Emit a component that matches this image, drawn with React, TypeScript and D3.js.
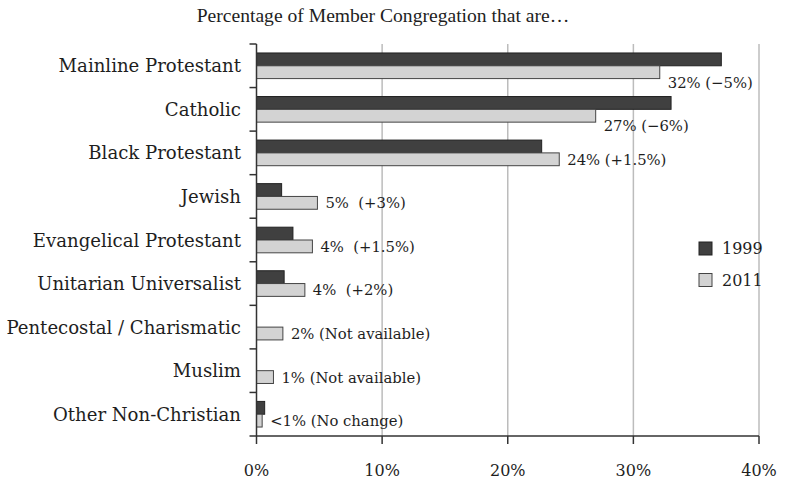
import React from 'react';
import * as d3 from 'd3';

// categories, top to bottom
const categories = [
  'Mainline Protestant',
  'Catholic',
  'Black Protestant',
  'Jewish',
  'Evangelical Protestant',
  'Unitarian Universalist',
  'Pentecostal / Charismatic',
  'Muslim',
  'Other Non-Christian',
];

// percent of member congregations (null = not available)
const values1999: (number | null)[] = [37, 33, 22.7, 2, 2.9, 2.2, null, null, 0.65];
const values2011: number[] = [32.1, 27, 24.1, 4.85, 4.45, 3.85, 2.1, 1.35, 0.45];

const valueLabels = [
  '32% (−5%)',
  '27% (−6%)',
  '24% (+1.5%)',
  '5%  (+3%)',
  '4%  (+1.5%)',
  '4%  (+2%)',
  '2% (Not available)',
  '1% (Not available)',
  '<1% (No change)',
];

const seriesNames = ['1999', '2011'];
const xTicks = [0, 10, 20, 30, 40];

const title = 'Percentage of Member Congregation that are…';

export default function App() {
  const width = 797;
  const height = 483;
  const margin = { top: 44, right: 38, bottom: 47, left: 256.5 };

  const x = d3.scaleLinear().domain([0, 40]).range([margin.left, width - margin.right]);
  const y = d3.scaleBand<string>().domain(categories).range([margin.top, height - margin.bottom]).padding(0);
  const inner = d3.scaleBand<string>().domain(seriesNames).range([0, y.bandwidth()]).paddingInner(0).paddingOuter(0.7);
  const colors = d3.scaleOrdinal<string, string>().domain(seriesNames).range(['#404040', '#d3d3d3']);

  const serif = '"DejaVu Serif", serif';
  const x0 = x(0);
  const yBottom = height - margin.bottom;
  const boundaries = d3.range(categories.length + 1).map(i => margin.top + i * y.step());

  return (
    <svg width={width} height={height} style={{ position: 'absolute', left: 0, top: 0, background: '#fff' }}>
      <text x={383} y={22} textAnchor="middle" fontFamily='"Liberation Serif", serif' fontSize={19.6} fill="#1e1e1e">
        {title}
      </text>

      {/* gridlines */}
      {xTicks.filter(t => t > 0).map(t => (
        <line key={'g' + t} x1={x(t)} x2={x(t)} y1={margin.top} y2={yBottom} stroke="#bcbcbc" strokeWidth={1.5} />
      ))}

      {/* bars */}
      {categories.map((c, i) => {
        const by = y(c)!;
        const v1 = values1999[i];
        const v2 = values2011[i];
        return (
          <g key={c}>
            {v1 != null && (
              <rect x={x0} y={by + inner('1999')!} width={x(v1) - x0} height={inner.bandwidth()}
                fill={colors('1999')} stroke="#222" strokeWidth={1} />
            )}
            <rect x={x0} y={by + inner('2011')!} width={x(v2) - x0} height={inner.bandwidth()}
              fill={colors('2011')} stroke="#444" strokeWidth={1} />
          </g>
        );
      })}

      {/* value labels */}
      {categories.map((c, i) => {
        const lx = x(values2011[i]) + 8;
        const v1 = values1999[i];
        const overlaps = v1 != null && lx < x(v1);
        const ly = y(c)! + inner('2011')! + inner.bandwidth() / 2 + (overlaps ? 10 : 0);
        return (
          <text key={'l' + c} x={lx} y={ly} dominantBaseline="central" fontFamily={serif} fontSize={14.8}
            fill="#1e1e1e" style={{ whiteSpace: 'pre' }}>
            {valueLabels[i]}
          </text>
        );
      })}

      {/* y axis */}
      <line x1={x0} x2={x0} y1={margin.top} y2={yBottom} stroke="#333" strokeWidth={1.5} />
      {boundaries.map((b, i) => (
        <line key={'yt' + i} x1={x0 - 7} x2={x0} y1={b} y2={b} stroke="#333" strokeWidth={1.5} />
      ))}
      {categories.map(c => (
        <text key={'c' + c} x={241} y={y(c)! + y.bandwidth() / 2} textAnchor="end" dominantBaseline="central"
          fontFamily={serif} fontSize={18.1} fill="#1e1e1e">
          {c}
        </text>
      ))}

      {/* x axis */}
      <line x1={x0} x2={x(40)} y1={yBottom} y2={yBottom} stroke="#333" strokeWidth={1.5} />
      {xTicks.map(t => (
        <g key={'xt' + t}>
          <line x1={x(t)} x2={x(t)} y1={yBottom} y2={yBottom + 8} stroke="#333" strokeWidth={1.5} />
          <text x={x(t)} y={470} textAnchor="middle" dominantBaseline="central" fontFamily={serif} fontSize={16} fill="#1e1e1e">
            {t + '%'}
          </text>
        </g>
      ))}

      {/* legend */}
      {seriesNames.map((s, i) => (
        <g key={'lg' + s} transform={`translate(699,${242 + i * 31.5})`}>
          <rect width={13} height={13} fill={colors(s)} stroke={i === 0 ? '#222' : '#444'} strokeWidth={1} />
          <text x={23} y={6.5} dominantBaseline="central" fontFamily={serif} fontSize={16} fill="#1e1e1e">{s}</text>
        </g>
      ))}
    </svg>
  );
}
